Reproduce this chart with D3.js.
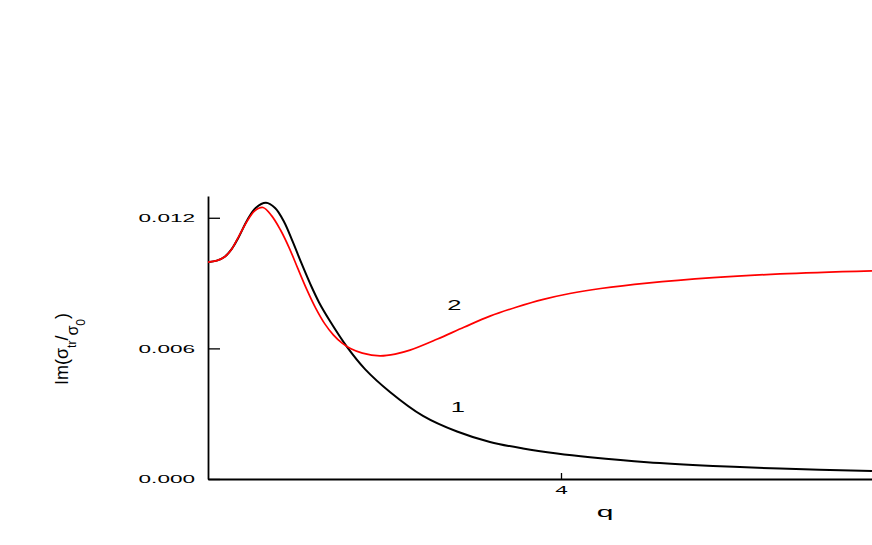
<!DOCTYPE html>
<html>
<head>
<meta charset="utf-8">
<script src="https://cdn.jsdelivr.net/npm/d3@7"></script>
<style>
  body { margin: 0; background: #fff; }
  text { font-family: "Liberation Sans", Arial, sans-serif; fill: #000; }
</style>
</head>
<body>
<div id="chart"></div>
<script>
// values: q and Im(sigma_tr/sigma_0)
const qBlack = [0, 0.10, 0.19, 0.27, 0.34, 0.45, 0.54, 0.657, 0.76, 0.86, 0.96, 1.06, 1.16, 1.26, 1.38, 1.575, 1.779, 2.062, 2.436, 2.822, 3.195, 3.569, 3.955, 4.329, 4.975, 5.722, 6.482, 7.524]
const vBlack = [0.00996, 0.01003, 0.01021, 0.01057, 0.01105, 0.01193, 0.01245, 0.01269, 0.01245, 0.01183, 0.01090, 0.00990, 0.00895, 0.00810, 0.00727, 0.00607, 0.00505, 0.00400, 0.00290, 0.00218, 0.00170, 0.00140, 0.00117, 0.00100, 0.00077, 0.00060, 0.00048, 0.00037]

const qRed = [0, 0.10, 0.19, 0.27, 0.34, 0.453, 0.53, 0.623, 0.72, 0.82, 0.92, 1.02, 1.12, 1.22, 1.32, 1.42, 1.52, 1.62, 1.75, 1.949, 2.12, 2.289, 2.6, 2.9, 3.195, 3.5, 3.8, 4.1, 4.45, 4.975, 5.722, 6.482, 7.524]
const vRed = [0.00996, 0.01003, 0.01021, 0.01057, 0.01108, 0.01191, 0.01232, 0.01247, 0.01210, 0.01145, 0.01062, 0.00965, 0.00870, 0.00785, 0.00715, 0.00662, 0.00624, 0.00598, 0.00578, 0.00566, 0.00574, 0.00592, 0.00643, 0.00697, 0.00748, 0.00790, 0.00825, 0.00852, 0.00875, 0.00900, 0.00925, 0.00942, 0.00956]

const yTicks = [0, 0.006, 0.012]
const xTicks = [4]
const curveLabels = [
  { text: "2", q: 2.79, v: 0.00775 },
  { text: "1", q: 2.83, v: 0.00310 }
]

const margin = { top: 196, left: 208 }
const width = 706, height = 283

const svg = d3.select("#chart")
  .append("svg")
  .attr("width", 872)
  .attr("height", 545)

const g = svg.append("g")
  .attr("transform", "translate(" + margin.left + "," + margin.top + ")")

const x = d3.scaleLinear().domain([0, 8]).range([0, width])
const y = d3.scaleLinear().domain([0, 0.013]).range([height, 0])

// axes, ticks pointing inward
const yAxis = g.append("g")
  .call(d3.axisLeft(y).tickValues(yTicks).tickFormat(d3.format(".3f")).tickSizeInner(-12).tickSizeOuter(0))
yAxis.selectAll("text")
  .attr("x", 0).attr("dy", "0.35em")
  .attr("text-anchor", "end")
  .attr("transform", "translate(-13,0) scale(2.05,1)")
  .style("font-size", "11px")

const xAxis = g.append("g")
  .attr("transform", "translate(0," + height + ")")
  .call(d3.axisBottom(x).tickValues(xTicks).tickFormat(d3.format("d")).tickSizeInner(-6).tickSizeOuter(0))
xAxis.selectAll("text")
  .attr("y", 0).attr("dy", 0)
  .attr("transform", "translate(0,15) scale(2.05,1)")
  .style("font-size", "11px")

g.selectAll(".domain").attr("stroke", "#000").attr("stroke-width", 1.8)
g.selectAll(".tick line").attr("stroke", "#000").attr("stroke-width", 1.3)

// axis titles
svg.append("text")
  .attr("transform", "translate(605,517) scale(2,1)")
  .attr("text-anchor", "middle")
  .style("font-size", "15px")
  .text("q")

const yTitle = svg.append("text")
  .attr("transform", "translate(68,349) rotate(-90)")
  .attr("text-anchor", "middle")
  .style("font-size", "18px")
yTitle.append("tspan").text("Im(σ")
yTitle.append("tspan").attr("dy", 8).style("font-size", "12px").text("tr")
yTitle.append("tspan").attr("dy", -8).text("/")
yTitle.append("tspan").attr("dy", 10).style("font-size", "16px").text("σ")
yTitle.append("tspan").attr("dy", 7).style("font-size", "12px").text("0")
yTitle.append("tspan").attr("dy", -17).text(")")

// curves
const line = d3.line()
  .x(d => x(d[0]))
  .y(d => y(d[1]))
  .curve(d3.curveCatmullRom.alpha(0.5))

g.append("path")
  .datum(d3.zip(qBlack, vBlack))
  .attr("fill", "none")
  .attr("stroke", "#000")
  .attr("stroke-width", 2)
  .attr("d", line)

g.append("path")
  .datum(d3.zip(qRed, vRed))
  .attr("fill", "none")
  .attr("stroke", "#f00")
  .attr("stroke-width", 1.7)
  .attr("d", line)

g.selectAll(".curve-label")
  .data(curveLabels)
  .enter()
  .append("text")
  .attr("class", "curve-label")
  .attr("text-anchor", "middle")
  .attr("transform", d => "translate(" + x(d.q) + "," + y(d.v) + ") scale(1.7,1)")
  .style("font-size", "15px")
  .text(d => d.text)
</script>
</body>
</html>
